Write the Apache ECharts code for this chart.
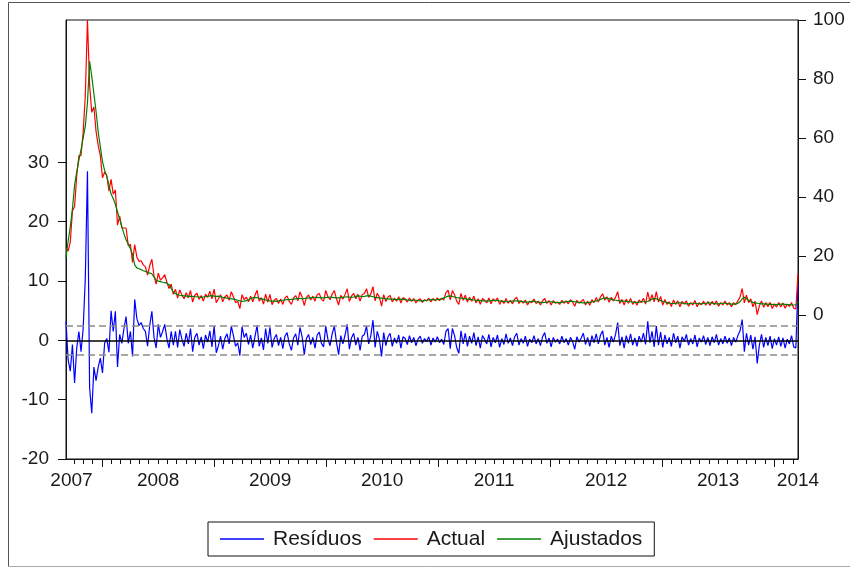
<!DOCTYPE html>
<html><head><meta charset="utf-8">
<script src="https://cdn.jsdelivr.net/npm/echarts@6/dist/echarts.min.js"></script>
<style>html,body{margin:0;padding:0;background:#fff}#c{width:850px;height:569px}</style>
</head><body><div id="c"></div>
<script>
// weekly observations starting mid-September 2007
const START_YEAR = 2007.678;
const WEEK = 7 / 365.25;
const SE = 2.45; // +/- 1 standard error band of residuals

const residuos = [
3.2,-3.3,-5.2,-0.7,-7.2,-1.3,1.5,-1.9,2.0,10.5,
28.5,-8,-12.3,-4.5,-6.8,-4.5,-3,-5.5,-0.5,0.3,
-2,5,1.5,4.9,-4.5,1,-0.5,2,4,-0.5,
1.5,-2.7,6.9,3.7,2.5,3,2,1.5,-1,2.5,
4.9,0.5,-1.3,2.7,0.5,1.5,2.7,0.3,-1.3,1.5,
-0.8,1.5,-1.2,1.8,0.2,-1.0,1.2,-0.6,2.0,-1.9,
0.5,1.2,-0.8,0.6,-1.4,0.9,-0.3,1.6,-1.1,2.4,
-2.1,-0.9,0.7,-1.5,0.3,1.1,-0.6,2.4,0.8,-1.0,
-0.4,-2.6,2.3,0.5,1.2,-0.7,0.9,-1.3,0.6,2.5,
-1.0,0.4,-1.6,2.0,-0.5,2.2,-1.2,0.3,1.0,-0.9,
0.5,-1.4,0.7,1.3,-0.6,-1.7,0.4,1.1,-0.8,2.2,
0.6,-2.4,0.3,1.0,-0.7,0.5,-1.3,0.9,1.4,-0.5,
-1.1,2.4,0.2,-0.9,1.1,2.4,-0.3,-2.4,0.8,-0.6,
0.9,2.7,-1.5,0.4,1.2,-0.8,0.5,-1.7,0.7,1.0,
2.4,-0.6,0.8,3.4,-1.2,1.5,0.2,-2.7,1.3,-0.9,
0.6,1.2,-1.0,0.4,-0.5,0.9,-1.3,0.6,0.3,-0.7,
0.8,-0.4,0.5,-0.9,0.2,0.7,-0.5,0.3,-0.2,0.6,
-0.8,0.4,-0.3,0.6,-0.4,0.2,-0.7,1.5,2.0,-1.4,
2.0,0.8,-1.2,-2.2,1.6,-0.6,1.2,-1.0,0.7,-0.5,
1.3,-0.9,0.6,-1.3,0.8,0.2,-0.6,1.0,-1.1,0.5,
-0.4,0.9,-1.2,0.3,-0.7,1.1,-0.5,0.4,-0.9,0.6,
1.2,-0.8,0.3,-0.5,0.7,-1.0,0.2,-0.4,0.8,-0.6,
0.3,-0.9,0.6,1.3,-0.5,0.4,-1.1,0.5,-0.3,0.2,
-0.6,0.7,-0.4,0.3,-0.8,0.5,-0.2,-1.5,0.6,-0.3,
0.4,1.2,-0.7,0.5,-1.0,0.8,-0.4,1.1,-0.6,0.9,
1.6,-0.8,0.5,-1.2,0.7,-0.3,1.0,3.0,-0.9,0.6,
-1.3,0.8,-0.5,1.1,-0.8,0.4,-1.0,0.7,-0.3,1.2,
-0.7,3.2,-0.4,1.5,-1.1,2.4,-0.8,1.4,-1.2,0.9,
-0.6,0.5,-1.0,1.2,-0.4,0.7,-1.3,0.6,-0.2,1.0,
-0.8,0.3,-0.6,0.9,-1.1,0.4,-0.3,0.8,-0.7,0.5,
-0.9,0.6,-0.4,1.0,-0.8,0.3,-0.6,0.7,-0.5,0.4,
-0.9,0.5,-0.3,0.8,1.6,3.5,-1.9,1.2,-0.8,0.9,
-1.5,0.6,-3.9,-0.8,1.0,-1.2,0.5,-0.9,0.7,-1.4,
0.3,-0.8,0.6,-1.0,0.4,-1.3,0.2,-0.6,0.8,-1.1,-1.3,9.5
];

const actual = [
22.7,21.7,24.8,35.3,36.8,47.2,54,54.1,62,74.5,
100,78,68.7,70.5,62.2,57.5,54,46.5,48.5,47.3,
42,46,41,42.4,30.5,33.5,29.5,29.5,29.5,23.5,
24,17.8,23.9,19.7,18.2,18.4,17,16.3,13.5,16.7,
18.9,13.3,10.5,14.2,11.8,12.6,13.7,11.1,9,10.5,
7,8.7,5.7,8.5,6.8,5.5,7.6,5.8,8.3,4.4,
6.7,7.4,5.3,6.6,4.7,7.1,6.0,8.1,5.5,8.8,
4.2,5.5,6.9,4.5,6.2,6.8,5.0,7.9,6.2,4.2,
4.6,2.2,6.9,5.2,6.1,4.5,6.4,4.5,6.6,8.4,
4.7,5.9,3.7,7.1,4.4,7.0,3.5,5.0,5.6,3.9,
5.4,3.6,5.8,6.5,4.6,3.6,5.8,6.6,4.8,7.8,
6.1,3.2,6.0,6.8,5.1,6.4,4.7,6.9,7.3,5.3,
4.7,8.3,6.2,5.2,7.1,8.3,5.5,3.4,6.7,5.4,
7.0,8.9,4.6,6.4,7.3,5.5,7.0,4.7,6.9,7.3,
8.9,6.0,7.2,9.6,4.8,7.4,6.0,3.0,6.9,4.6,
6.1,6.6,4.4,5.7,4.7,6.2,4.1,5.9,5.5,4.4,
5.8,4.6,5.6,4.1,5.1,5.5,4.3,5.2,4.8,5.7,
4.4,5.6,4.8,5.8,4.9,5.7,5.1,7.6,8.4,5.1,
8.3,6.9,4.7,3.6,7.3,5.0,6.7,4.4,6.0,4.7,
6.4,4.1,5.5,3.6,5.6,5.0,4.1,5.8,3.8,5.5,
4.6,5.8,3.6,5.0,3.9,5.6,4.0,5.0,3.8,5.4,
6.0,3.9,4.9,4.0,5.1,3.4,4.7,4.2,5.4,3.9,
4.7,3.4,4.8,5.6,3.9,4.9,3.4,4.9,4.0,4.4,
3.6,5.0,4.0,4.8,3.8,5.2,4.4,3.0,5.0,4.0,
4.6,5.3,3.4,4.7,3.3,5.2,4.2,5.9,4.4,6.2,
7.2,5.0,6.2,4.3,6.0,4.8,6.0,7.9,3.9,5.3,
3.4,5.4,4.0,5.6,3.6,4.7,3.3,5.1,4.2,5.7,
3.7,7.8,4.6,6.9,4.5,7.9,4.4,6.3,3.4,5.3,
3.6,4.5,2.9,5.1,3.6,4.8,2.8,4.6,3.7,4.8,
3.0,4.2,3.4,4.9,2.8,4.2,3.5,4.7,3.3,4.6,
3.2,4.6,3.5,4.8,3.0,4.2,3.4,4.7,3.4,4.2,
2.8,4.2,3.5,4.8,6.1,9.0,4.1,6.7,4.2,5.5,
2.8,4.7,0.1,3.1,4.8,2.6,4.2,2.8,4.3,2.2,
3.8,2.7,4.2,2.7,4.1,2.3,3.7,2.9,4.2,2.3,2.1,14
];

const ajustados = [
19.5,25,30,36,44,48.5,52.5,56,60,64,
72,86,81,75,69,62,57,52,49,47,
44,41,39.5,37.5,35,32.5,30,27.5,25.5,24,
22.5,20.5,17,16,15.7,15.4,15,14.8,14.5,14.2,
14,12.8,11.8,11.5,11.3,11.1,11,10.8,10.3,9,
7.8,7.2,6.9,6.7,6.6,6.5,6.4,6.4,6.3,6.3,
6.2,6.2,6.1,6.0,6.1,6.2,6.3,6.5,6.6,6.4,
6.3,6.4,6.2,6.0,5.9,5.7,5.6,5.5,5.4,5.2,
5.0,4.8,4.6,4.7,4.9,5.2,5.5,5.8,6.0,5.9,
5.7,5.5,5.3,5.1,4.9,4.8,4.7,4.7,4.6,4.8,
4.9,5.0,5.1,5.2,5.2,5.3,5.4,5.5,5.6,5.6,
5.5,5.6,5.7,5.8,5.8,5.9,6.0,6.0,5.9,5.8,
5.8,5.9,6.0,6.1,6.0,5.9,5.8,5.8,5.9,6.0,
6.1,6.2,6.1,6.0,6.1,6.3,6.5,6.4,6.2,6.3,
6.5,6.6,6.4,6.2,6.0,5.9,5.8,5.7,5.6,5.5,
5.5,5.4,5.4,5.3,5.2,5.3,5.4,5.3,5.2,5.1,
5.0,5.0,5.1,5.0,4.9,4.8,4.8,4.9,5.0,5.1,
5.2,5.2,5.1,5.2,5.3,5.5,5.8,6.1,6.4,6.5,
6.3,6.1,5.9,5.8,5.7,5.6,5.5,5.4,5.3,5.2,
5.1,5.0,4.9,4.9,4.8,4.8,4.7,4.8,4.9,5.0,
5.0,4.9,4.8,4.7,4.6,4.5,4.5,4.6,4.7,4.8,
4.8,4.7,4.6,4.5,4.4,4.4,4.5,4.6,4.6,4.5,
4.4,4.3,4.2,4.3,4.4,4.5,4.5,4.4,4.3,4.2,
4.2,4.3,4.4,4.5,4.6,4.7,4.6,4.5,4.4,4.3,
4.2,4.1,4.1,4.2,4.3,4.4,4.6,4.8,5.0,5.3,
5.6,5.8,5.7,5.5,5.3,5.1,5.0,4.9,4.8,4.7,
4.7,4.6,4.5,4.5,4.4,4.3,4.3,4.4,4.5,4.5,
4.4,4.6,5.0,5.4,5.6,5.5,5.2,4.9,4.6,4.4,
4.2,4.0,3.9,3.9,4.0,4.1,4.1,4.0,3.9,3.8,
3.8,3.9,4.0,4.0,3.9,3.8,3.8,3.9,4.0,4.1,
4.1,4.0,3.9,3.8,3.8,3.9,4.0,4.0,3.9,3.8,
3.7,3.7,3.8,4.0,4.5,5.5,6.0,5.5,5.0,4.6,
4.3,4.1,4.0,3.9,3.8,3.8,3.7,3.7,3.6,3.6,
3.5,3.5,3.6,3.7,3.7,3.6,3.5,3.5,3.4,3.4,3.4,4.5
];

const seriesNames = ['Resíduos', 'Actual', 'Ajustados'];
const leftTicks = [-20, -10, 0, 10, 20, 30];
const rightTicks = [0, 20, 40, 60, 80, 100];
const years = [2007, 2008, 2009, 2010, 2011, 2012, 2013, 2014];

const tEnd = START_YEAR + (residuos.length - 1) * WEEK;
const toPairs = arr => arr.map((v, i) => [START_YEAR + i * WEEK, v]);

const yearTicks = years.filter(y => y > START_YEAR && y <= tEnd);
const monthTicks = [];
years.forEach(y => { for (let m = 0; m < 12; m++) { const v = y + m / 12; if (v >= START_YEAR && v <= tEnd) monthTicks.push(v); } });
const labelVals = years.map(y => {
  if (y < START_YEAR + 0.3 && y + 1 > START_YEAR) return START_YEAR + 0.049;
  if (y + 1 > tEnd) return tEnd;
  return y + 0.5;
});

const FONT = '"Liberation Sans", Arial, sans-serif';
const AX = '#111';
const TXT = '#1a1a1a';

const chart = echarts.init(document.getElementById('c'));
chart.setOption({
  animation: false,
  backgroundColor: '#fff',
  grid: { left: 66, top: 20, width: 732, height: 439, show: true, borderColor: AX, borderWidth: 1, containLabel: false },
  legend: {
    data: seriesNames,
    left: 208, top: 522,
    padding: [6, 12, 6, 12],
    icon: 'rect',
    itemWidth: 44, itemHeight: 1.5, itemGap: 12,
    borderColor: AX, borderWidth: 1,
    textStyle: { fontSize: 21, color: TXT, fontFamily: FONT, padding: [0, 0, 0, 4], lineHeight: 22 },
    selectedMode: false
  },
  xAxis: [
    {
      type: 'value', min: START_YEAR, max: tEnd, position: 'bottom',
      axisLine: { show: true, onZero: false, lineStyle: { color: AX, width: 1 } },
      axisTick: { show: true, customValues: monthTicks, length: 5, lineStyle: { color: AX } },
      axisLabel: { customValues: labelVals, formatter: v => String(Math.floor(v + 1e-6)), fontSize: 19, color: TXT, fontFamily: FONT, margin: 12 },
      splitLine: { show: false }
    },
    {
      type: 'value', min: START_YEAR, max: tEnd, position: 'bottom',
      axisLine: { show: false, onZero: false },
      axisTick: { show: true, customValues: yearTicks, length: 8, lineStyle: { color: AX } },
      axisLabel: { show: false },
      splitLine: { show: false }
    }
  ],
  yAxis: [
    {
      type: 'value', min: -20, max: 54, position: 'left',
      axisLine: { show: true, onZero: false, lineStyle: { color: AX } },
      axisTick: { show: true, customValues: leftTicks, length: 8, lineStyle: { color: AX } },
      axisLabel: { customValues: leftTicks, fontSize: 19, color: TXT, fontFamily: FONT, margin: 17 },
      splitLine: { show: false }
    },
    {
      type: 'value', min: -48.8, max: 100, position: 'right',
      axisLine: { show: true, onZero: false, lineStyle: { color: AX } },
      axisTick: { show: true, customValues: rightTicks, length: 8, lineStyle: { color: AX } },
      axisLabel: { customValues: rightTicks, fontSize: 19, color: TXT, fontFamily: FONT, margin: 15 },
      splitLine: { show: false }
    }
  ],
  series: [
    {
      name: 'ref', type: 'line', xAxisIndex: 0, yAxisIndex: 0, z: 1,
      data: [[START_YEAR, 0]], symbol: 'none', lineStyle: { opacity: 0 }, silent: true,
      markLine: {
        silent: true, symbol: ['none', 'none'], label: { show: false },
        data: [
          { yAxis: SE, lineStyle: { color: '#8a8a8a', type: [7, 4], width: 1.5 } },
          { yAxis: -SE, lineStyle: { color: '#8a8a8a', type: [7, 4], width: 1.5 } },
          { yAxis: 0, lineStyle: { color: '#000', type: 'solid', width: 1.6 } }
        ]
      }
    },
    {
      name: seriesNames[0], type: 'line', xAxisIndex: 0, yAxisIndex: 0, z: 3,
      data: toPairs(residuos), symbol: 'none', lineStyle: { color: '#0000ff', width: 1.2 }, itemStyle: { color: '#0000ff' }
    },
    {
      name: seriesNames[1], type: 'line', xAxisIndex: 0, yAxisIndex: 1, z: 3,
      data: toPairs(actual), symbol: 'none', lineStyle: { color: '#ff0000', width: 1.2 }, itemStyle: { color: '#ff0000' }
    },
    {
      name: seriesNames[2], type: 'line', xAxisIndex: 0, yAxisIndex: 1, z: 4,
      data: toPairs(ajustados), symbol: 'none', lineStyle: { color: '#008000', width: 1.2 }, itemStyle: { color: '#008000' }
    }
  ],
  graphic: [
    { type: 'line', silent: true, shape: { x1: 8.5, y1: 2.5, x2: 850, y2: 2.5 }, style: { stroke: '#555', lineWidth: 1 } },
    { type: 'line', silent: true, shape: { x1: 8.5, y1: 2.5, x2: 8.5, y2: 566.5 }, style: { stroke: '#555', lineWidth: 1 } },
    { type: 'line', silent: true, shape: { x1: 8.5, y1: 566.5, x2: 850, y2: 566.5 }, style: { stroke: '#aaa', lineWidth: 1 } }
  ]
});
</script>
</body></html>
